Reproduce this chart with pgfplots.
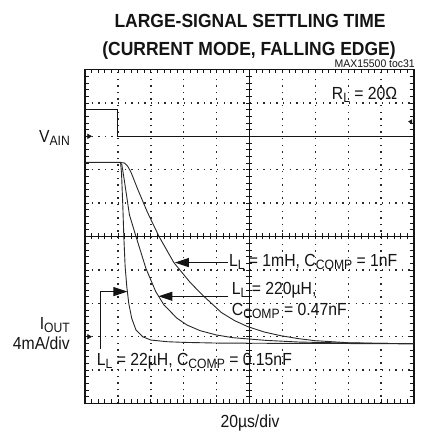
\documentclass[border=0pt]{standalone}
\usepackage{pgfplots}
\pgfplotsset{compat=1.18}
\usepackage{fontspec}
\setmainfont{Liberation Sans}
\usepackage{graphicx}
\usetikzlibrary{arrows.meta}
\definecolor{ink}{RGB}{20,20,20}
\definecolor{trace}{RGB}{40,40,40}
\definecolor{dots}{RGB}{40,40,40}
\newcommand\sub[1]{\raisebox{-0.3ex}{\fontsize{13.5}{14}\selectfont #1}}
\newcommand\lbl[1]{\scalebox{0.9}[1]{\fontsize{17.5}{19}\selectfont #1}}
\begin{document}
\begin{tikzpicture}
\path[use as bounding box] (-85pt,-30.5pt) rectangle (340pt,403.5pt);
\begin{axis}[at={(0pt,0pt)}, anchor=south west, width=329pt, height=334pt, scale only axis,
  xmin=0, xmax=10, ymin=0, ymax=10,
  xtick={0,...,10}, ytick={0,...,10}, minor tick num=4,
  xticklabels={}, yticklabels={},
  tick align=inside, major tick length=4pt, minor tick length=4pt,
  tick style={ink, line width=0.7pt},
  grid=major, major grid style={dots, line width=1.4pt, dash pattern=on 1.4pt off 5.2pt},
  axis line style={ink, line width=1.8pt}, clip=false]
% V_AIN
\addplot[ink, line width=1.1pt] coordinates {(0,8.8) (1.0,8.8) (1.0,8.0) (10,8.0)};
% I_OUT, L=22uH
\addplot[trace, line width=0.9pt] coordinates {
 (0,7.22) (1.08,7.22) (1.11,6.9) (1.13,6.4) (1.15,5.9) (1.18,5.0) (1.22,4.1) (1.27,3.5) (1.33,3.0)
 (1.42,2.55) (1.55,2.2) (1.75,2.0) (2.0,1.9) (2.5,1.85) (3.0,1.83) (4,1.81) (6,1.80) (10,1.79)};
% L=220uH
\addplot[trace, line width=0.9pt] coordinates {
 (1.05,7.22) (1.12,7.15) (1.2,6.65) (1.35,5.65) (1.55,5.0) (1.85,4.05) (2.15,3.35) (2.4,2.95)
 (2.8,2.55) (3.1,2.35) (3.5,2.18) (4.0,2.05) (4.5,1.97) (5.5,1.89) (6.5,1.84) (8,1.81) (10,1.79)};
% L=1mH
\addplot[trace, line width=0.9pt] coordinates {
 (1.05,7.22) (1.2,7.2) (1.3,7.1) (1.4,6.92) (1.6,6.42) (1.9,5.72) (2.25,5.0) (2.7,4.22) (3.2,3.62)
 (3.6,3.22) (4.15,2.72) (4.55,2.48) (4.95,2.3) (5.45,2.14) (5.95,2.03) (6.5,1.94) (7.0,1.88) (8.0,1.82) (9,1.8) (10,1.79)};
\addplot[only marks, mark=triangle*, mark size=2.6pt, mark options={rotate=-90, draw=ink, fill=ink}] coordinates {(0.12,8) (0.12,2)};
\addplot[only marks, mark=triangle*, mark size=2.2pt, mark options={rotate=90, draw=ink, fill=ink}] coordinates {(9.9,8.44)};
\draw[ink, -{Triangle[length=14pt,width=9pt]}, line width=1pt] (axis cs:4.35,4.22) -- (axis cs:2.73,4.22);
\draw[ink, -{Triangle[length=14pt,width=9pt]}, line width=1pt] (axis cs:4.36,3.21) -- (axis cs:2.23,3.21);
\draw[ink, -{Triangle[length=14pt,width=9pt]}, line width=1pt] (axis cs:0.47,1.63) -- (axis cs:0.47,3.35) -- (axis cs:1.29,3.35);
\end{axis}
\begin{axis}[at={(0pt,0pt)}, anchor=south west, width=329pt, height=334pt, scale only axis,
  xmin=-5, xmax=5, ymin=-5, ymax=5, axis lines=middle, axis line style={-, ink, line width=1.1pt},
  xtick distance=0.2, ytick distance=0.2, xticklabels={}, yticklabels={},
  tick align=center, major tick length=6pt, tick style={ink, line width=0.7pt}]
\end{axis}
\begin{scope}[text=ink]
\node[anchor=base] at (165pt,376.2pt) {\scalebox{0.92}[1]{\fontsize{19}{21}\selectfont\bfseries LARGE-SIGNAL SETTLING TIME}};
\node[anchor=base] at (164pt,347.5pt) {\scalebox{0.92}[1]{\fontsize{19}{21}\selectfont\bfseries (CURRENT MODE, FALLING EDGE)}};
\node[anchor=base east, inner sep=0pt] at (330pt,335.8pt) {\scalebox{0.95}[1]{\fontsize{11}{12}\selectfont MAX15500 toc31}};
\node[anchor=base west, inner sep=0pt] at (246.7pt,303.5pt) {\lbl{R\sub{L} = 20Ω}};
\node[anchor=base east, inner sep=0pt] at (-15pt,260.8pt) {\lbl{V\sub{AIN}}};
\node[anchor=base east, inner sep=0pt] at (-15pt,73.5pt) {\lbl{I\sub{OUT}}};
\node[anchor=base east, inner sep=0pt] at (-15pt,53.5pt) {\lbl{4mA/div}};
\node[anchor=base, inner sep=0pt] at (165pt,-23.5pt) {\lbl{20µs/div}};
\node[anchor=base west, inner sep=0pt] at (143.8pt,136.8pt) {\lbl{L\sub{L} = 1mH, C\sub{COMP} = 1nF}};
\node[anchor=base west, inner sep=0pt] at (146.7pt,108.5pt) {\lbl{L\sub{L} = 220µH,}};
\node[anchor=base west, inner sep=0pt] at (146.7pt,87.5pt) {\lbl{C\sub{COMP} = 0.47nF}};
\node[anchor=base west, inner sep=0pt] at (11.7pt,38.2pt) {\lbl{L\sub{L} = 22µH, C\sub{COMP} = 0.15nF}};
\end{scope}
\end{tikzpicture}
\end{document}
